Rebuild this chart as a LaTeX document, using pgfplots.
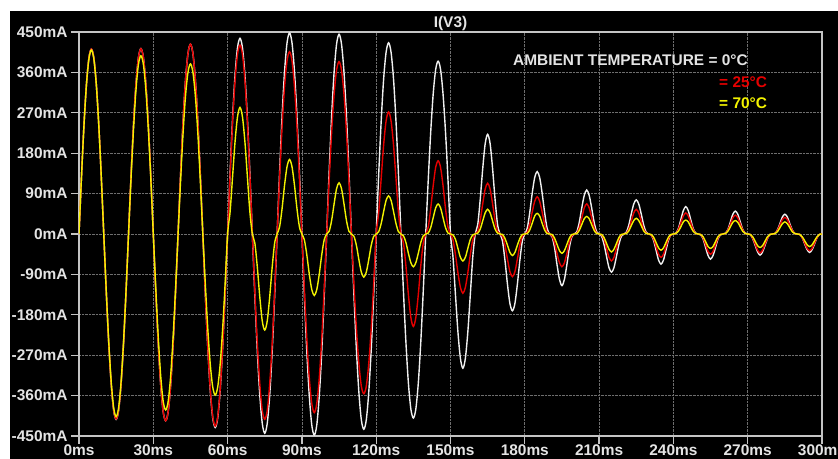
\documentclass[border=0pt]{standalone}
\usepackage{pgfplots}
\pgfplotsset{compat=1.18}
\usepackage{fontspec}
\setmainfont{Liberation Sans}
\definecolor{wc}{HTML}{F0F0F0}
\definecolor{rc}{HTML}{E60000}
\definecolor{yc}{HTML}{F2F200}
\definecolor{framec}{HTML}{C4C4C4}
\definecolor{gridc}{HTML}{6E6E6E}
\definecolor{labc}{HTML}{E4E4E4}
\newcommand{\lf}{\fontsize{15.5}{18}\selectfont\bfseries}
\begin{document}
\begin{tikzpicture}
\fill[white] (-79bp,-23bp) rectangle (759bp,436bp);
\fill[black] (-69bp,-23bp) rectangle (759bp,425bp);
\begin{axis}[
  at={(0,0)}, anchor=south west, scale only axis,
  width=743bp, height=404bp,
  xmin=0, xmax=300, ymin=-450, ymax=450,
  xtick={0,30,...,300},
  xticklabels={0ms,30ms,60ms,90ms,120ms,150ms,180ms,210ms,240ms,270ms,300ms},
  ytick={-450,-360,...,450},
  yticklabels={-450mA,-360mA,-270mA,-180mA,-90mA,0mA,90mA,180mA,270mA,360mA,450mA},
  xtick pos=bottom, ytick pos=left,
  tick align=outside, major tick length=8bp,
  axis line style={framec, line width=1.3bp},
  tick style={framec, line width=1.3bp},
  grid=major, major grid style={gridc, densely dotted, line width=0.8bp},
  ticklabel style={font=\lf, text=labc},
  xticklabel style={yshift=3bp},
  title={I(V3)}, title style={font=\lf, text=labc, at={(0.5,1)}, anchor=base, yshift=-1bp},
  every axis plot/.append style={line width=1.4bp, smooth},
]
% 0 C (white)
\addplot[wc] coordinates {
(0,0)(1,127)(2,242)(3,333)(4,392)(5,412)(6,392)(7,333)(8,242)(9,127)
(10,0)(11,-128)(12,-243)(13,-334)(14,-393)(15,-413)(16,-393)(17,-334)(18,-243)(19,-128)
(20,0)(21,128)(22,243)(23,334)(24,393)(25,413)(26,393)(27,334)(28,243)(29,128)
(30,0)(31,-129)(32,-245)(33,-337)(34,-396)(35,-416)(36,-396)(37,-337)(38,-245)(39,-129)
(40,0)(41,131)(42,249)(43,342)(44,402)(45,423)(46,402)(47,342)(48,249)(49,131)
(50,0)(51,-133)(52,-253)(53,-349)(54,-410)(55,-431)(56,-410)(57,-349)(58,-253)(59,-133)
(60,0)(61,135)(62,256)(63,353)(64,415)(65,436)(66,415)(67,353)(68,256)(69,135)
(70,0)(71,-137)(72,-261)(73,-359)(74,-422)(75,-444)(76,-422)(77,-359)(78,-261)(79,-137)
(80,0)(81,138)(82,263)(83,362)(84,426)(85,448)(86,426)(87,362)(88,263)(89,138)
(90,0)(91,-138)(92,-263)(93,-362)(94,-426)(95,-448)(96,-426)(97,-362)(98,-263)(99,-138)
(100,0)(101,138)(102,262)(103,360)(104,423)(105,445)(106,423)(107,360)(108,262)(109,138)
(110,0)(111,-134)(112,-256)(113,-352)(114,-414)(115,-435)(116,-414)(117,-352)(118,-256)(119,-134)
(120,0)(121,132)(122,250)(123,345)(124,405)(125,426)(126,405)(127,345)(128,250)(129,132)
(130,0)(131,-127)(132,-241)(133,-332)(134,-390)(135,-410)(136,-390)(137,-332)(138,-241)(139,-127)
(140,0)(141,119)(142,226)(143,311)(144,366)(145,385)(146,366)(147,311)(148,226)(149,119)
(150,0)(151,-51)(152,-135)(153,-218)(154,-277)(155,-299)(156,-277)(157,-218)(158,-135)(159,-51)
(160,0)(161,21)(162,77)(163,145)(164,201)(165,222)(166,201)(167,145)(168,77)(169,21)
(170,0)(171,-16)(172,-59)(173,-112)(174,-155)(175,-171)(176,-155)(177,-112)(178,-59)(179,-16)
(180,0)(181,13)(182,48)(183,91)(184,126)(185,139)(186,126)(187,91)(188,48)(189,13)
(190,0)(191,-6)(192,-30)(193,-68)(194,-101)(195,-115)(196,-101)(197,-68)(198,-30)(199,-6)
(200,0)(201,5)(202,26)(203,58)(204,86)(205,98)(206,86)(207,58)(208,26)(209,5)
(210,0)(211,-5)(212,-23)(213,-50)(214,-75)(215,-85)(216,-75)(217,-50)(218,-23)(219,-5)
(220,0)(221,4)(222,20)(223,45)(224,67)(225,76)(226,67)(227,45)(228,20)(229,4)
(230,0)(231,-2)(232,-14)(233,-36)(234,-58)(235,-67)(236,-58)(237,-36)(238,-14)(239,-2)
(240,0)(241,2)(242,12)(243,32)(244,52)(245,61)(246,52)(247,32)(248,12)(249,2)
(250,0)(251,-2)(252,-11)(253,-30)(254,-48)(255,-56)(256,-48)(257,-30)(258,-11)(259,-2)
(260,0)(261,2)(262,10)(263,27)(264,44)(265,51)(266,44)(267,27)(268,10)(269,2)
(270,0)(271,-1)(272,-10)(273,-25)(274,-40)(275,-47)(276,-40)(277,-25)(278,-10)(279,-1)
(280,0)(281,1)(282,9)(283,23)(284,38)(285,44)(286,38)(287,23)(288,9)(289,1)
(290,0)(291,-1)(292,-8)(293,-22)(294,-35)(295,-41)(296,-35)(297,-22)(298,-8)(299,-1)(300,0)
};
% 25 C (red)
\addplot[rc] coordinates {
(0,0)(1,127)(2,242)(3,333)(4,392)(5,412)(6,392)(7,333)(8,242)(9,127)
(10,0)(11,-127)(12,-242)(13,-333)(14,-392)(15,-412)(16,-392)(17,-333)(18,-242)(19,-127)
(20,0)(21,128)(22,243)(23,334)(24,393)(25,413)(26,393)(27,334)(28,243)(29,128)
(30,0)(31,-129)(32,-245)(33,-337)(34,-396)(35,-416)(36,-396)(37,-337)(38,-245)(39,-129)
(40,0)(41,131)(42,249)(43,342)(44,402)(45,423)(46,402)(47,342)(48,249)(49,131)
(50,0)(51,-132)(52,-252)(53,-346)(54,-407)(55,-428)(56,-407)(57,-346)(58,-252)(59,-132)
(60,0)(61,130)(62,248)(63,341)(64,400)(65,421)(66,400)(67,341)(68,248)(69,130)
(70,0)(71,-128)(72,-243)(73,-334)(74,-393)(75,-413)(76,-393)(77,-334)(78,-243)(79,-128)
(80,0)(81,125)(82,239)(83,328)(84,386)(85,406)(86,386)(87,328)(88,239)(89,125)
(90,0)(91,-123)(92,-234)(93,-322)(94,-378)(95,-398)(96,-378)(97,-322)(98,-234)(99,-123)
(100,0)(101,119)(102,226)(103,311)(104,365)(105,384)(106,365)(107,311)(108,226)(109,119)
(110,0)(111,-110)(112,-209)(113,-288)(114,-339)(115,-356)(116,-339)(117,-288)(118,-209)(119,-110)
(120,0)(121,47)(122,123)(123,198)(124,252)(125,272)(126,252)(127,198)(128,123)(129,47)
(130,0)(131,-20)(132,-71)(133,-135)(134,-186)(135,-206)(136,-186)(137,-135)(138,-71)(139,-20)
(140,0)(141,15)(142,56)(143,107)(144,148)(145,163)(146,148)(147,107)(148,56)(149,15)
(150,0)(151,-13)(152,-46)(153,-86)(154,-119)(155,-132)(156,-119)(157,-86)(158,-46)(159,-13)
(160,0)(161,6)(162,30)(163,67)(164,100)(165,113)(166,100)(167,67)(168,30)(169,6)
(170,0)(171,-5)(172,-25)(173,-56)(174,-84)(175,-95)(176,-84)(177,-56)(178,-25)(179,-5)
(180,0)(181,4)(182,22)(183,49)(184,73)(185,83)(186,73)(187,49)(188,22)(189,4)
(190,0)(191,-4)(192,-19)(193,-43)(194,-64)(195,-73)(196,-64)(197,-43)(198,-19)(199,-4)
(200,0)(201,2)(202,14)(203,36)(204,58)(205,67)(206,58)(207,36)(208,14)(209,2)
(210,0)(211,-2)(212,-12)(213,-32)(214,-52)(215,-60)(216,-52)(217,-32)(218,-12)(219,-2)
(220,0)(221,2)(222,11)(223,29)(224,47)(225,55)(226,47)(227,29)(228,11)(229,2)
(230,0)(231,-2)(232,-11)(233,-28)(234,-45)(235,-52)(236,-45)(237,-28)(238,-11)(239,-2)
(240,0)(241,1)(242,10)(243,25)(244,40)(245,47)(246,40)(247,25)(248,10)(249,1)
(250,0)(251,-1)(252,-9)(253,-24)(254,-39)(255,-45)(256,-39)(257,-24)(258,-9)(259,-1)
(260,0)(261,1)(262,9)(263,22)(264,36)(265,42)(266,36)(267,22)(268,9)(269,1)
(270,0)(271,-1)(272,-9)(273,-22)(274,-36)(275,-42)(276,-36)(277,-22)(278,-9)(279,-1)
(280,0)(281,1)(282,8)(283,20)(284,32)(285,37)(286,32)(287,20)(288,8)(289,1)
(290,0)(291,-1)(292,-8)(293,-20)(294,-32)(295,-37)(296,-32)(297,-20)(298,-8)(299,-1)(300,0)
};
% 70 C (yellow)
\addplot[yc] coordinates {
(0,0)(1,127)(2,241)(3,332)(4,390)(5,410)(6,390)(7,332)(8,241)(9,127)
(10,0)(11,-126)(12,-239)(13,-329)(14,-387)(15,-407)(16,-387)(17,-329)(18,-239)(19,-126)
(20,0)(21,123)(22,233)(23,321)(24,378)(25,397)(26,378)(27,321)(28,233)(29,123)
(30,0)(31,-121)(32,-230)(33,-317)(34,-373)(35,-392)(36,-373)(37,-317)(38,-230)(39,-121)
(40,0)(41,117)(42,223)(43,307)(44,360)(45,379)(46,360)(47,307)(48,223)(49,117)
(50,0)(51,-111)(52,-211)(53,-290)(54,-341)(55,-359)(56,-341)(57,-290)(58,-211)(59,-111)
(60,0)(61,49)(62,127)(63,205)(64,261)(65,282)(66,261)(67,205)(68,127)(69,49)
(70,0)(71,-20)(72,-74)(73,-140)(74,-194)(75,-214)(76,-194)(77,-140)(78,-74)(79,-20)
(80,0)(81,16)(82,57)(83,109)(84,150)(85,166)(86,150)(87,109)(88,57)(89,16)
(90,0)(91,-13)(92,-47)(93,-90)(94,-124)(95,-137)(96,-124)(97,-90)(98,-47)(99,-13)
(100,0)(101,6)(102,30)(103,67)(104,101)(105,114)(106,101)(107,67)(108,30)(109,6)
(110,0)(111,-5)(112,-25)(113,-57)(114,-85)(115,-96)(116,-85)(117,-57)(118,-25)(119,-5)
(120,0)(121,5)(122,23)(123,50)(124,75)(125,85)(126,75)(127,50)(128,23)(129,5)
(130,0)(131,-4)(132,-19)(133,-43)(134,-64)(135,-73)(136,-64)(137,-43)(138,-19)(139,-4)
(140,0)(141,2)(142,14)(143,36)(144,58)(145,67)(146,58)(147,36)(148,14)(149,2)
(150,0)(151,-2)(152,-12)(153,-32)(154,-52)(155,-60)(156,-52)(157,-32)(158,-12)(159,-2)
(160,0)(161,2)(162,11)(163,29)(164,47)(165,55)(166,47)(167,29)(168,11)(169,2)
(170,0)(171,-1)(172,-10)(173,-25)(174,-41)(175,-48)(176,-41)(177,-25)(178,-10)(179,-1)
(180,0)(181,1)(182,9)(183,24)(184,40)(185,46)(186,40)(187,24)(188,9)(189,1)
(190,0)(191,-1)(192,-9)(193,-23)(194,-37)(195,-43)(196,-37)(197,-23)(198,-9)(199,-1)
(200,0)(201,1)(202,8)(203,21)(204,34)(205,39)(206,34)(207,21)(208,8)(209,1)
(210,0)(211,-1)(212,-8)(213,-21)(214,-34)(215,-40)(216,-34)(217,-21)(218,-8)(219,-1)
(220,0)(221,1)(222,7)(223,19)(224,30)(225,35)(226,30)(227,19)(228,7)(229,1)
(230,0)(231,-1)(232,-7)(233,-19)(234,-31)(235,-36)(236,-31)(237,-19)(238,-7)(239,-1)
(240,0)(241,1)(242,6)(243,16)(244,27)(245,31)(246,27)(247,16)(248,6)(249,1)
(250,0)(251,-1)(252,-6)(253,-17)(254,-28)(255,-32)(256,-28)(257,-17)(258,-6)(259,-1)
(260,0)(261,1)(262,6)(263,16)(264,26)(265,30)(266,26)(267,16)(268,6)(269,1)
(270,0)(271,-1)(272,-6)(273,-16)(274,-26)(275,-30)(276,-26)(277,-16)(278,-6)(279,-1)
(280,0)(281,1)(282,5)(283,14)(284,23)(285,27)(286,23)(287,14)(288,5)(289,1)
(290,0)(291,-1)(292,-6)(293,-15)(294,-24)(295,-28)(296,-24)(297,-15)(298,-6)(299,-1)(300,0)
};
\end{axis}
\node[anchor=base west, inner sep=0pt, text=labc, font=\lf] at (434bp,370bp) {AMBIENT TEMPERATURE = 0°C};
\node[anchor=base west, inner sep=0pt, text=rc, font=\lf] at (640bp,348.7bp) {= 25°C};
\node[anchor=base west, inner sep=0pt, text=yc, font=\lf] at (640bp,327.7bp) {= 70°C};
\pgfresetboundingbox
\useasboundingbox (-79bp,-23bp) rectangle (759bp,436bp);
\end{tikzpicture}
\end{document}
